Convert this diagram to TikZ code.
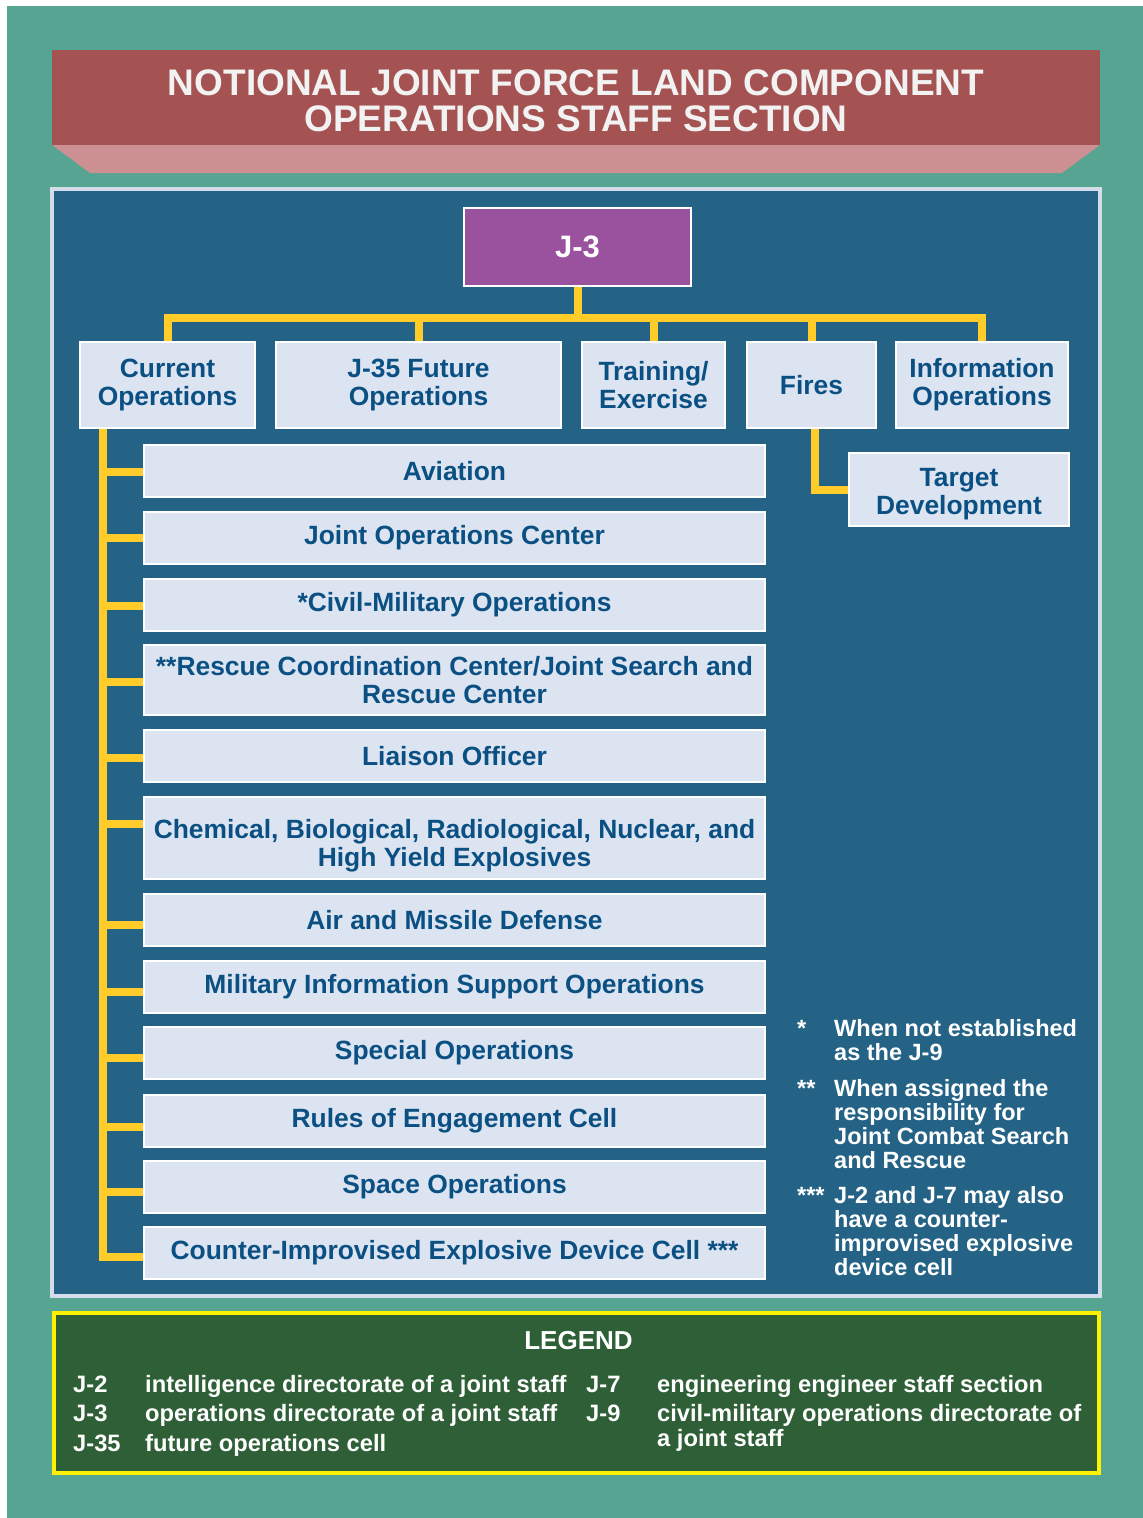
\documentclass[tikz,border=0pt]{standalone}
\usepackage{fontspec}
\setmainfont{Liberation Sans}
\definecolor{teal}{HTML}{56A593}
\definecolor{bannerred}{HTML}{A45252}
\definecolor{shadowpink}{HTML}{CC8F92}
\definecolor{titlewhite}{HTML}{F2F2F2}
\definecolor{panelblue}{HTML}{256386}
\definecolor{panelrim}{HTML}{D5DDED}
\definecolor{boxfill}{HTML}{DCE3F1}
\definecolor{boxtext}{HTML}{0B5083}
\definecolor{linkyellow}{HTML}{FFCC29}
\definecolor{jpurple}{HTML}{9A519E}
\definecolor{legendgreen}{HTML}{2E5F37}
\definecolor{legendrim}{HTML}{FFF100}

\begin{document}
\begin{tikzpicture}[x=1pt,y=-1pt,every node/.style={inner sep=0,align=center},
	box/.style={draw=white,line width=2pt,fill=boxfill,text=boxtext,font=\bfseries\fontsize{26.4}{28}\selectfont},
	cell/.style={box,minimum width=621,minimum height=52},
	note/.style={text=white,font=\bfseries\fontsize{23.5}{24}\selectfont,align=left},
	key/.style={text=white,font=\bfseries\fontsize{23.7}{24.5}\selectfont,align=left},
	link/.style={draw=linkyellow,line width=8pt}]
\useasboundingbox (0,0) rectangle (1143,1518);
\fill[white] (0,0) rectangle (1143,1518);
\fill[teal] (7,6) rectangle (1143,1518);
%title banner
\fill[shadowpink] (52,145) -- (1100,145) -- (1062,173) -- (90,173) -- cycle;
\fill[bannerred] (52,50) rectangle (1100,145);
\node[anchor=base,text=titlewhite,font=\bfseries\fontsize{37}{36}\selectfont] (title) at (576,131) {NOTIONAL JOINT FORCE LAND COMPONENT\\OPERATIONS STAFF SECTION};
%panels
\filldraw[fill=panelblue,draw=panelrim,line width=4pt] (52,189) rectangle (1100,1296);
\filldraw[fill=legendgreen,draw=legendrim,line width=4pt] (54,1313) rectangle (1099,1473);

		\node[box,fill=jpurple,text=white,font=\bfseries\fontsize{31}{32}\selectfont,minimum width=227,minimum height=78] (j3) at (577.5,247){J-3};
%second row
		\node[box,minimum width=175,minimum height=86] (cur) at (167.5,385){Current\\Operations};
		\node[box,minimum width=285,minimum height=86] (fut) at (418.5,385){J-35 Future\\Operations};
		\node[box,minimum width=143,minimum height=86] (trn) at (653.5,385){Training/\\Exercise};
		\node[box,minimum width=129,minimum height=86] (fir) at (811.5,385){Fires};
		\node[box,minimum width=172,minimum height=86] (inf) at (982,385){Information\\Operations};
		\node[box,minimum width=220,minimum height=73] (tgt) at (959,489.5){\rule{0pt}{27.5pt}Target\\Development};
%current operations cells
\node[cell] (avi) at (454.5,471){Aviation};
\node[cell] (joc) at (454.5,538){Joint Operations Center};
\node[cell] (cmo) at (454.5,605){*Civil-Military Operations};
\node[cell,minimum height=70] (rcc) at (454.5,680){**Rescue Coordination Center/Joint Search and\\Rescue Center};
\node[cell] (lia) at (454.5,756){Liaison Officer};
\node[cell,minimum height=82] (cbrn) at (454.5,838){\rule{0pt}{35pt}Chemical, Biological, Radiological, Nuclear, and\\High Yield Explosives};
\node[cell] (amd) at (454.5,920){Air and Missile Defense};
\node[cell] (miso) at (454.5,986.5){Military Information Support Operations};
\node[cell] (so) at (454.5,1052.5){Special Operations};
\node[cell] (roe) at (454.5,1120.5){Rules of Engagement Cell};
\node[cell] (spc) at (454.5,1186.5){Space Operations};
\node[cell] (cied) at (454.5,1253){Counter-Improvised Explosive Device Cell ***};

\coordinate (bus) at (575.5,318);
\begin{scope}[link]
%from J-3
\draw (j3.south) -- (j3.south |- bus);
\foreach \n in {cur,fut,trn,fir,inf}
	\draw (j3.south |- bus) -| (\n.north);
\draw ([xshift=3pt]fir.south) |- (tgt.west);
%trunk
\foreach \n/\s in {avi/-1,joc/0,cmo/-1,rcc/-2,lia/-1.5,cbrn/14,amd/-5,miso/-5,so/-5.5,roe/-6,spc/-5.5,cied/-4}
	\draw ([xshift=23.5pt]cur.south west) |- ([yshift=\s pt]\n.west);
\end{scope}

%notes (multi-line nodes sit on their last baseline)
\node[note,anchor=base west] (st1) at (797,1036){*};
\node[note,anchor=base west] (fn1) at (834,1060){When not established\\as the J-9};
\node[note,anchor=base west] (st2) at (797,1096){**};
\node[note,anchor=base west] (fn2) at (834,1168){When assigned the\\responsibility for\\Joint Combat Search\\and Rescue};
\node[note,anchor=base west] (st3) at (797,1203){***};
\node[note,anchor=base west] (fn3) at (834,1275){J-2 and J-7 may also\\have a counter-\\improvised explosive\\device cell};

%legend
\node[key,anchor=base,font=\bfseries\fontsize{26}{28}\selectfont] (legend) at (578.5,1349){LEGEND};
\node[key,anchor=base west] (k2) at (73,1392){J-2};
\node[key,anchor=base west] (d2) at (145,1392){intelligence directorate of a joint staff};
\node[key,anchor=base west] (k3) at (73,1421.5){J-3};
\node[key,anchor=base west] (d3) at (145,1421.5){operations directorate of a joint staff};
\node[key,anchor=base west] (k35) at (73,1451){J-35};
\node[key,anchor=base west] (d35) at (145,1451){future operations cell};
\node[key,anchor=base west] (k7) at (586,1392){J-7};
\node[key,anchor=base west] (d7) at (657,1392){engineering engineer staff section};
\node[key,anchor=base west] (k9) at (586,1421.5){J-9};
\node[key,anchor=base west] (d9) at (657,1446){civil-military operations directorate of\\a joint staff};
\end{tikzpicture}
\end{document}
